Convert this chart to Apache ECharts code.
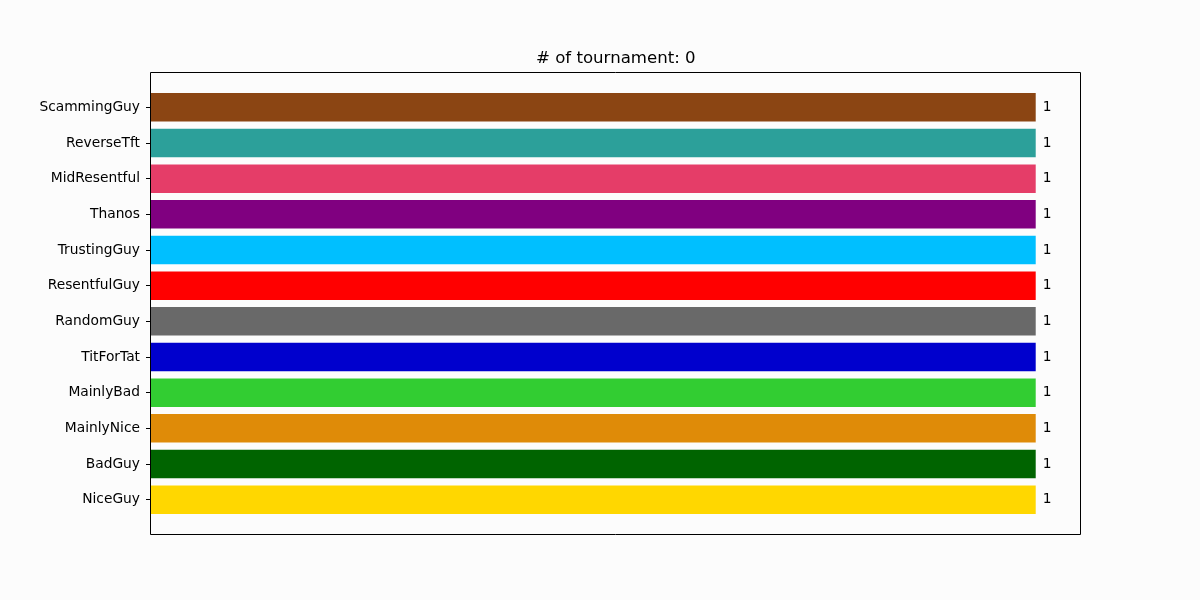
<!DOCTYPE html>
<html>
<head>
<meta charset="utf-8">
<script src="https://cdn.jsdelivr.net/npm/echarts@6/dist/echarts.min.js"></script>
<style>
  html, body { margin: 0; padding: 0; background: #fcfcfc; }
  #chart { width: 1200px; height: 600px; }
</style>
</head>
<body>
<div id="chart"></div>
<script>
// players, bottom to top
var players = ['NiceGuy', 'BadGuy', 'MainlyNice', 'MainlyBad', 'TitForTat', 'RandomGuy',
  'ResentfulGuy', 'TrustingGuy', 'Thanos', 'MidResentful', 'ReverseTft', 'ScammingGuy'];
var counts = [1, 1, 1, 1, 1, 1, 1, 1, 1, 1, 1, 1];
var colors = ['#ffd700', '#006400', '#df8b08', '#32cd32', '#0000cd', '#696969',
  '#ff0000', '#00bfff', '#800080', '#e53d68', '#2ca09a', '#8b4513'];
var tournament = 0;

var chart = echarts.init(document.getElementById('chart'));
var font = 'DejaVu Sans';

chart.setOption({
  backgroundColor: '#fcfcfc',
  animation: false,
  title: {
    text: '# of tournament: ' + tournament,
    left: 531,
    top: 45,
    textStyle: { fontFamily: font, fontSize: 16.6, fontWeight: 'normal', color: '#000' }
  },
  graphic: [{
    type: 'rect',
    shape: { x: 150.5, y: 72.5, width: 930, height: 462 },
    style: { fill: null, stroke: '#000', lineWidth: 1 },
    z: 10
  }],
  grid: { left: 150, right: 120, top: 89.5, height: 428, containLabel: false },
  xAxis: {
    type: 'value',
    min: 0,
    max: 1.05,
    axisLine: { show: false },
    axisTick: { show: false },
    axisLabel: { show: false },
    splitLine: { show: false }
  },
  yAxis: {
    type: 'category',
    data: players,
    axisLine: { show: false },
    axisTick: { show: true, alignWithLabel: true, length: 4, lineStyle: { color: '#000' } },
    axisLabel: { fontFamily: font, fontSize: 13.8, color: '#000', margin: 10 }
  },
  series: [{
    type: 'bar',
    barWidth: '80%',
    data: counts.map(function (v, i) {
      return { value: v, itemStyle: { color: colors[i] } };
    }),
    label: {
      show: true,
      position: 'right',
      distance: 7,
      fontFamily: font,
      fontSize: 13.8,
      color: '#000'
    }
  }]
});
</script>
</body>
</html>
